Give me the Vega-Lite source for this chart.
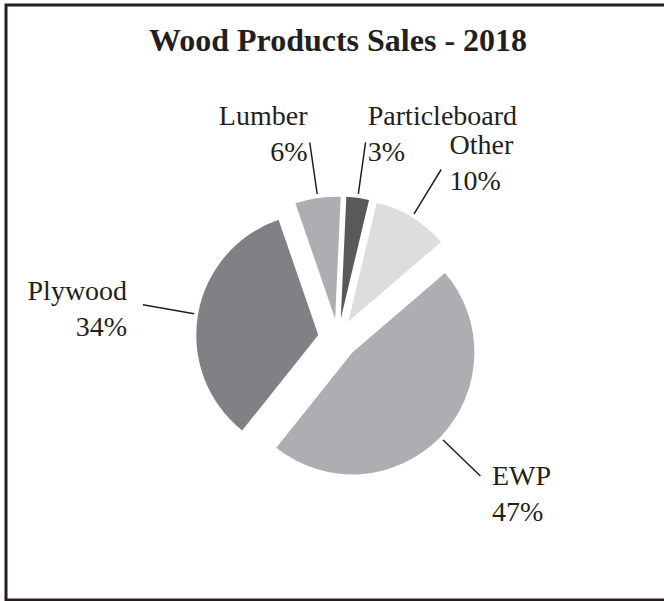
{
  "$schema": "https://vega.github.io/schema/vega-lite/v6.json",
  "width": 664,
  "height": 601,
  "autosize": {"type": "fit", "contains": "padding"},
  "padding": {"left": 6, "top": 5, "right": -4, "bottom": 1},
  "background": "white",
  "view": {"stroke": "#231f20", "strokeWidth": 3},
  "title": {
    "text": "Wood Products Sales - 2018",
    "font": "Liberation Serif",
    "fontSize": 32,
    "fontWeight": "bold",
    "color": "#231f20",
    "anchor": "middle",
    "frame": "group",
    "baseline": "alphabetic",
    "offset": -45,
    "dy": 33,
    "dx": 1
  },
  "data": {
    "values": [
      {"k": 1, "category": "Lumber", "pct": 6, "label": "Lumber\n6%"},
      {"k": 2, "category": "Particleboard", "pct": 3, "label": "Particleboard\n3%"},
      {"k": 3, "category": "Other", "pct": 10, "label": "Other\n10%"},
      {"k": 4, "category": "EWP", "pct": 47, "label": "EWP\n47%"},
      {"k": 5, "category": "Plywood", "pct": 34, "label": "Plywood\n34%"}
    ]
  },
  "encoding": {
    "theta": {"field": "pct", "type": "quantitative", "stack": true, "scale": {"range": [-0.3316, 5.9516]}},
    "order": {"field": "k", "type": "quantitative"}
  },
  "layer": [
    {
      "mark": {
        "type": "arc",
        "outerRadius": 122,
        "xOffset": {"expr": "1 + 20*sin(scale('theta', (datum.pct_start + datum.pct_end)/2))"},
        "yOffset": {"expr": "36 - 20*cos(scale('theta', (datum.pct_start + datum.pct_end)/2))"}
      },
      "encoding": {
        "color": {
          "field": "category",
          "type": "nominal",
          "scale": {
            "domain": ["Lumber", "Particleboard", "Other", "EWP", "Plywood"],
            "range": ["#adaeb1", "#58595b", "#dcdddf", "#adaeb1", "#808184"]
          },
          "legend": null
        }
      }
    },
    {
      "mark": {
        "type": "arc",
        "innerRadius": 126,
        "outerRadius": 178,
        "padAngle": 3,
        "filled": false,
        "stroke": "#231f20",
        "strokeWidth": 1.5,
        "xOffset": {"expr": "1 + 20*sin(scale('theta', (datum.pct_start + datum.pct_end)/2))"},
        "yOffset": {"expr": "36 - 20*cos(scale('theta', (datum.pct_start + datum.pct_end)/2))"}
      }
    },
    {
      "mark": {
        "type": "text",
        "radius": 214,
        "font": "Liberation Serif",
        "fontSize": 28,
        "lineHeight": 36,
        "color": "#231f20",
        "baseline": "middle",
        "lineBreak": "\n",
        "dy": -10,
        "align": {"expr": "sin(scale('theta', (datum.pct_start + datum.pct_end)/2)) < 0 ? 'right' : 'left'"},
        "xOffset": 1,
        "yOffset": 36
      },
      "encoding": {"text": {"field": "label"}}
    }
  ]
}
